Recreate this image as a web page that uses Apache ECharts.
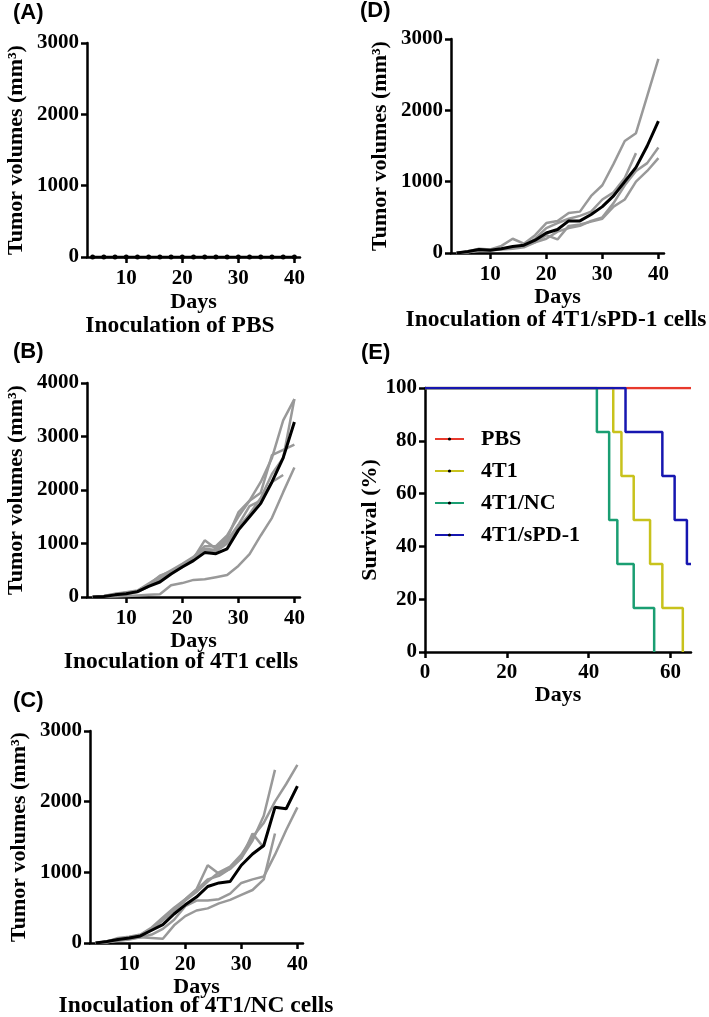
<!DOCTYPE html>
<html><head><meta charset="utf-8">
<script src="https://cdn.jsdelivr.net/npm/echarts@6/dist/echarts.min.js"></script>
<style>html,body{margin:0;padding:0;background:#fff}#c{width:709px;height:1017px}</style>
</head><body><div id="c"></div><script>
// ---- data ----
const days = [4,6,8,10,12,14,16,18,20,22,24,26,28,30,32,34,36,38,40];
const xTicksTumor = [10,20,30,40];
const xTicksSurv = [0,20,40,60];

// (A) PBS
const pbsMean = [0,0,0,0,0,0,0,0,0,0,0,0,0,0,0,0,0,0,0];

// (B) 4T1
const t1Mouse1 = [0,5,10,20,30,40,50,220,260,320,330,370,410,580,800,1150,1480,1960,2420];
const t1Mouse2 = [0,15,50,80,100,230,400,480,600,720,1060,900,1100,1580,1800,2150,2600,3300,3700];
const t1Mouse3 = [0,20,60,90,120,250,380,500,620,750,950,950,1150,1500,1800,1950,2650,2750,2850];
const t1Mouse4 = [0,10,40,60,90,200,330,450,560,700,880,850,1000,1300,1550,1850,2300,2600,3700];
const t1Mouse5 = [0,15,50,80,110,220,350,470,600,720,900,880,1050,1350,1700,1800,2150,2280,null];
const t1Mean   = [0,10,40,60,100,200,280,430,560,680,830,810,900,1250,1500,1750,2150,2600,3270];

// (C) 4T1/NC
const ncMouse1 = [0,20,70,90,120,220,360,500,620,750,900,950,1050,1200,1450,1800,2450,null,null];
const ncMouse2 = [0,15,50,80,110,200,320,450,600,720,870,1000,1080,1250,1500,1700,2000,2250,2520];
const ncMouse3 = [0,10,30,50,80,120,200,330,520,600,600,620,700,850,900,940,1250,1600,1920];
const ncMouse4 = [0,20,60,80,110,200,330,480,620,760,1100,980,1050,1200,1550,1350,null,null,null];
const ncMouse5 = [0,10,40,60,80,70,60,250,380,460,490,560,610,680,750,900,1550,null,null];
const ncMean   = [0,20,50,70,100,180,260,410,540,650,800,850,870,1100,1260,1380,1920,1900,2220];

// (D) 4T1/sPD-1
const pdMouse1 = [0,20,60,50,100,200,130,250,420,450,560,580,800,950,1250,1570,1680,2200,2720];
const pdMouse2 = [0,15,40,40,60,80,100,200,350,420,480,520,580,750,850,1050,1400,null,null];
const pdMouse3 = [0,10,30,40,50,60,80,150,250,190,380,400,440,480,650,750,1000,1150,1330];
const pdMouse4 = [0,15,40,50,60,80,100,150,200,300,350,380,450,500,700,950,1150,1260,1480];
const pdMean   = [0,20,50,40,60,90,110,180,280,330,450,450,540,650,800,1000,1200,1500,1850];

// (E) survival: [day, percent]
const survNames = ['PBS','4T1','4T1/NC','4T1/sPD-1'];
const survPBS  = [[0,100],[65,100]];
const surv4T1  = [[0,100],[46,83.3],[48,66.7],[51,50],[55,33.3],[58,16.7],[63,0]];
const survNC   = [[0,100],[42,83.3],[45,50],[47,33.3],[51,16.7],[56,0]];
const survPD1  = [[0,100],[49,83.3],[58,66.7],[61,50],[64,33.3],[65,33.3]];

// ---- styles ----
const SERIF = '"Liberation Serif","Times New Roman",serif';
const SANS = '"Liberation Sans",Arial,sans-serif';
const axLine = {show:true, onZero:false, lineStyle:{color:'#000', width:2.5}};
const tickLbl = {color:'#000', fontFamily:SERIF, fontWeight:'bold', fontSize:21, formatter:function(v){return String(v);}};
const nameTS = {color:'#000', fontFamily:SERIF, fontWeight:'bold', fontSize:22};

function pairs(arr){ const out=[]; days.forEach((d,i)=>{ if(arr[i]!==null) out.push([d,arr[i]]); }); return out; }

function xTumor(gi, gap){
  return {type:'value', gridIndex:gi, min:3, max:41,
    axisLine:axLine,
    axisTick:{show:true, customValues:xTicksTumor, length:6, lineStyle:{color:'#000', width:2.5}},
    axisLabel:Object.assign({customValues:xTicksTumor, margin:11}, tickLbl),
    splitLine:{show:false},
    name:'Days', nameLocation:'middle', nameGap:gap, nameTextStyle:nameTS};
}
function yTumor(gi, max, gap){
  return {type:'value', gridIndex:gi, min:0, max:max, interval:1000,
    axisLine:axLine,
    axisTick:{show:true, length:6, lineStyle:{color:'#000', width:2.5}},
    axisLabel:Object.assign({margin:8}, tickLbl),
    splitLine:{show:false},
    name:'Tumor volumes (mm³)', nameLocation:'middle', nameGap:gap, nameTextStyle:nameTS};
}
function grayLine(gi, arr){
  return {type:'line', xAxisIndex:gi, yAxisIndex:gi, data:pairs(arr), showSymbol:false, symbol:'none',
    lineStyle:{color:'#999', width:2.5}, silent:true, z:2};
}
function blackLine(gi, arr){
  return {type:'line', xAxisIndex:gi, yAxisIndex:gi, data:pairs(arr), showSymbol:false, symbol:'none',
    lineStyle:{color:'#000', width:3}, silent:true, z:3};
}
function survLine(name, data, color){
  return {type:'line', name:name, xAxisIndex:4, yAxisIndex:4, data:data, step:'end',
    symbol:'circle', symbolSize:4, showSymbol:false, itemStyle:{color:'#000', borderWidth:0},
    lineStyle:{color:color, width:2.5}, silent:true};
}

const chart = echarts.init(document.getElementById('c'), null, {renderer:'canvas'});
const option = {
  animation:false,
  backgroundColor:'#fff',
  grid:[
    {left:87, top:43, width:213, height:214},
    {left:87, top:383, width:213, height:214},
    {left:90, top:731, width:213, height:212},
    {left:451, top:39, width:213, height:214},
    {left:425, top:388, width:266, height:264}
  ],
  xAxis:[
    xTumor(0, 34), xTumor(1, 32), xTumor(2, 29), xTumor(3, 33),
    {type:'value', gridIndex:4, min:0, max:65,
      axisLine:axLine,
      axisTick:{show:true, customValues:xTicksSurv, length:6, lineStyle:{color:'#000', width:2.5}},
      axisLabel:Object.assign({customValues:xTicksSurv, margin:10}, tickLbl),
      splitLine:{show:false},
      name:'Days', nameLocation:'middle', nameGap:27, nameTextStyle:nameTS}
  ],
  yAxis:[
    yTumor(0, 3000, 60), yTumor(1, 4000, 60), yTumor(2, 3000, 60), yTumor(3, 3000, 60),
    {type:'value', gridIndex:4, min:0, max:100, interval:20,
      axisLine:axLine,
      axisTick:{show:true, length:6, lineStyle:{color:'#000', width:2.5}},
      axisLabel:Object.assign({margin:8}, tickLbl),
      splitLine:{show:false},
      name:'Survival (%)', nameLocation:'middle', nameGap:42, nameTextStyle:nameTS}
  ],
  legend:{
    show:true, orient:'vertical', left:434, top:428, padding:0, itemWidth:29, itemHeight:4, itemGap:10,
    data:survNames,
    textStyle:{color:'#000', fontFamily:SERIF, fontWeight:'bold', fontSize:22, padding:[0,0,0,12]}
  },
  series:[
    {type:'line', xAxisIndex:0, yAxisIndex:0, data:pairs(pbsMean), symbol:'circle', symbolSize:5,
      showSymbol:true, itemStyle:{color:'#000'}, lineStyle:{color:'#000', width:2.5}, clip:false, silent:true, z:3},
    grayLine(1,t1Mouse1), grayLine(1,t1Mouse2), grayLine(1,t1Mouse3), grayLine(1,t1Mouse4), grayLine(1,t1Mouse5),
    blackLine(1,t1Mean),
    grayLine(2,ncMouse1), grayLine(2,ncMouse2), grayLine(2,ncMouse3), grayLine(2,ncMouse4), grayLine(2,ncMouse5),
    blackLine(2,ncMean),
    grayLine(3,pdMouse1), grayLine(3,pdMouse2), grayLine(3,pdMouse3), grayLine(3,pdMouse4),
    blackLine(3,pdMean),
    survLine(survNames[0], survPBS, '#e8392c'),
    survLine(survNames[1], surv4T1, '#c8c21c'),
    survLine(survNames[2], survNC, '#1a9e72'),
    survLine(survNames[3], survPD1, '#1616b0')
  ],
  graphic:[
    {type:'text', x:13, y:13, style:{text:'(A)', font:'bold 22px '+SANS, fill:'#000', textVerticalAlign:'middle'}},
    {type:'text', x:13, y:352, style:{text:'(B)', font:'bold 22px '+SANS, fill:'#000', textVerticalAlign:'middle'}},
    {type:'text', x:13, y:701, style:{text:'(C)', font:'bold 22px '+SANS, fill:'#000', textVerticalAlign:'middle'}},
    {type:'text', x:360, y:11, style:{text:'(D)', font:'bold 22px '+SANS, fill:'#000', textVerticalAlign:'middle'}},
    {type:'text', x:361, y:353, style:{text:'(E)', font:'bold 22px '+SANS, fill:'#000', textVerticalAlign:'middle'}},
    {type:'text', x:180, y:326, style:{text:'Inoculation of PBS', font:'bold 23.5px '+SERIF, fill:'#000', textAlign:'center', textVerticalAlign:'middle'}},
    {type:'text', x:181, y:662, style:{text:'Inoculation of 4T1 cells', font:'bold 23.5px '+SERIF, fill:'#000', textAlign:'center', textVerticalAlign:'middle'}},
    {type:'text', x:196, y:1006, style:{text:'Inoculation of 4T1/NC cells', font:'bold 23.5px '+SERIF, fill:'#000', textAlign:'center', textVerticalAlign:'middle'}},
    {type:'text', x:556, y:320, style:{text:'Inoculation of 4T1/sPD-1 cells', font:'bold 23.5px '+SERIF, fill:'#000', textAlign:'center', textVerticalAlign:'middle'}}
  ]
};
chart.setOption(option);
</script></body></html>
